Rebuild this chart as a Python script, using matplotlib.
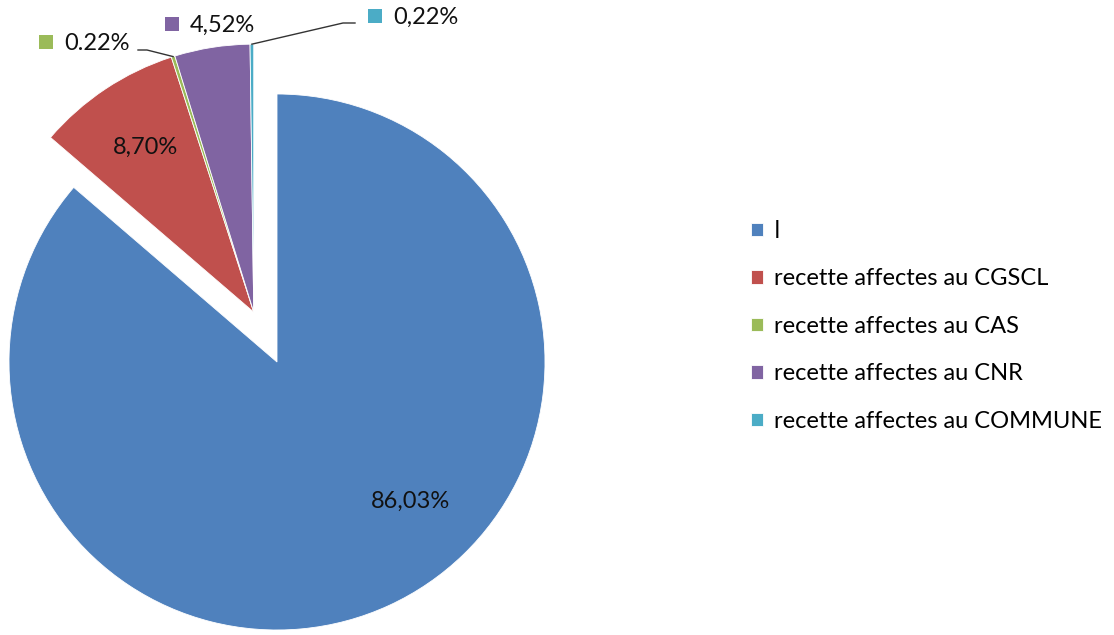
import matplotlib
matplotlib.use("Agg")
import matplotlib.pyplot as plt
import numpy as np

# data
categories = ["ا", "recette affectes au CGSCL", "recette affectes au CAS",
              "recette affectes au CNR", "recette affectes au COMMUNE"]
shares = [86.03, 8.70, 0.22, 4.52, 0.22]
pct_labels = ["86,03%", "8,70%", "0.22%", "4,52%", "0,22%"]
colors = ["#4F81BD", "#C0504D", "#9BBB59", "#8064A2", "#4BACC6"]

plt.rcParams["font.family"] = ["Lato", "DejaVu Sans"]

W, H = 1114, 635
fig = plt.figure(figsize=(W / 100, H / 100), dpi=100)
ax = fig.add_axes([0, 0, 1, 1])

wedges, _ = ax.pie(shares, colors=colors, startangle=90, counterclock=False,
                   center=(277, 273), radius=268, frame=True,
                   wedgeprops=dict(edgecolor="white", linewidth=0.6))

# the small slices are pulled out together, up and to the left
off = 55 * np.array([np.cos(np.deg2rad(115)), np.sin(np.deg2rad(115))])
for w in wedges[1:]:
    cx, cy = w.center
    w.set_center((cx + off[0], cy + off[1]))

ax.set_xlim(0, W)
ax.set_ylim(0, H)
ax.set_aspect("equal")
ax.axis("off")


def rim(w):
    a = np.deg2rad((w.theta1 + w.theta2) / 2)
    return w.center[0] + w.r * np.cos(a), w.center[1] + w.r * np.sin(a)


fs = 17
ax.text(410, 134, pct_labels[0], ha="center", va="center", fontsize=fs, color="#111111")
ax.text(145, 488, pct_labels[1], ha="center", va="center", fontsize=fs, color="#111111")

# outside labels with legend-key squares
outside = [(2, 46, 593), (3, 172, 611), (4, 375, 619)]
for i, sx, sy in outside:
    ax.scatter([sx], [sy], marker="s", s=90, color=colors[i], linewidths=0)
    ax.text(sx + 18, sy - 1, pct_labels[i], ha="left", va="center", fontsize=fs,
            color="#111111")

gx, gy = rim(wedges[2])
ax.plot([138, 147, gx], [585, 585, gy], color="#333333", lw=1)
tx, ty = rim(wedges[4])
ax.plot([355, 343, tx], [612, 612, ty], color="#333333", lw=1)

ax.legend(wedges, categories, loc="upper left", bbox_to_anchor=(0.666, 0.667),
          frameon=False, fontsize=fs, handlelength=0.5, handleheight=0.5,
          handletextpad=0.45, labelspacing=1.12, borderaxespad=0)

fig.savefig("out.png", dpi=100)
